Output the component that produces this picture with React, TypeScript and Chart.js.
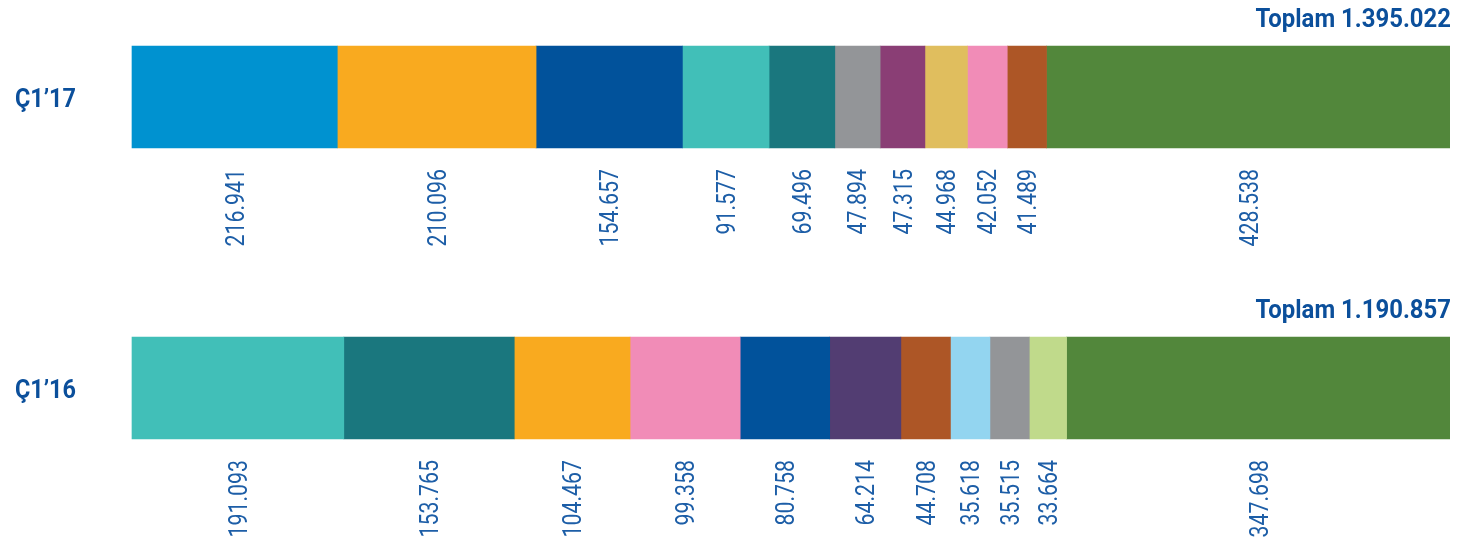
import React, { useEffect, useRef } from "react";
import { Chart, registerables } from "chart.js";

Chart.register(...registerables);

const categories = ["Ç1’17", "Ç1’16"];
const totalLabels = ["Toplam 1.395.022", "Toplam 1.190.857"];

const q117Values = [216941, 210096, 154657, 91577, 69496, 47894, 47315, 44968, 42052, 41489, 428538];
const q117Labels = ["216.941", "210.096", "154.657", "91.577", "69.496", "47.894", "47.315", "44.968", "42.052", "41.489", "428.538"];
const q117Colors = ["#0092d0", "#f9aa1f", "#01529b", "#41bfb8", "#1a777e", "#939598", "#8a3e75", "#e0be5e", "#f18cb7", "#ad5626", "#52873b"];

const q116Values = [191093, 153765, 104467, 99358, 80758, 64214, 44708, 35618, 35515, 33664, 347698];
const q116Labels = ["191.093", "153.765", "104.467", "99.358", "80.758", "64.214", "44.708", "35.618", "35.515", "33.664", "347.698"];
const q116Colors = ["#41bfb8", "#1a777e", "#f9aa1f", "#f18cb7", "#01529b", "#523d72", "#ad5626", "#93d5f0", "#939598", "#c0da8b", "#52873b"];

const BOLD_COLOR = "#0b4f9b";
const VALUE_COLOR = "#1d5ea7";
const FONT = "Roboto, 'Liberation Sans', sans-serif";

export default function App() {
  const ref = useRef<HTMLCanvasElement | null>(null);

  useEffect(() => {
    if (!ref.current) return;
    const sum17 = q117Values.reduce((a, b) => a + b, 0);
    const sum16 = q116Values.reduce((a, b) => a + b, 0);
    const valueLabels = [q117Labels, q116Labels];

    const datasets = q117Values.map((v, i) => ({
      label: "s" + i,
      data: [(v / sum17) * 100, (q116Values[i] / sum16) * 100],
      backgroundColor: [q117Colors[i], q116Colors[i]],
      borderWidth: 0,
      barThickness: 102,
      clip: false as any,
    }));

    const labelPlugin = {
      id: "labels",
      afterDatasetsDraw(chart: any) {
        const ctx = chart.ctx as CanvasRenderingContext2D;
        const yScale = chart.scales.y;
        const area = chart.chartArea;
        ctx.save();
        categories.forEach((c, ci) => {
          const yc = yScale.getPixelForValue(ci);
          ctx.save();
          ctx.fillStyle = BOLD_COLOR;
          ctx.font = `bold 26px ${FONT}`;
          ctx.textBaseline = "alphabetic";
          ctx.textAlign = "left";
          ctx.translate(7, yc + 10);
          ctx.scale(0.9, 1);
          ctx.fillText(c, 0, 0);
          ctx.restore();

          ctx.save();
          ctx.fillStyle = BOLD_COLOR;
          ctx.font = `bold 26px ${FONT}`;
          ctx.textAlign = "right";
          ctx.textBaseline = "alphabetic";
          ctx.translate(area.right - 1, yc - 70);
          ctx.scale(0.92, 1);
          ctx.fillText(totalLabels[ci], 0, 0);
          ctx.restore();
        });
        chart.data.datasets.forEach((ds: any, di: number) => {
          const meta = chart.getDatasetMeta(di);
          meta.data.forEach((el: any, ci: number) => {
            const cx = (el.x + el.base) / 2;
            const bottom = el.y + el.height / 2;
            ctx.save();
            ctx.fillStyle = VALUE_COLOR;
            ctx.font = `26px ${FONT}`;
            ctx.textAlign = "right";
            ctx.textBaseline = "alphabetic";
            ctx.translate(cx + 9, bottom + 21);
            ctx.rotate(-Math.PI / 2);
            ctx.scale(0.82, 1);
            ctx.fillText(valueLabels[ci][di], 0, 0);
            ctx.restore();
          });
        });
        ctx.restore();
      },
    };

    const chart = new Chart(ref.current, {
      type: "bar",
      data: { labels: categories, datasets },
      options: {
        indexAxis: "y",
        animation: false,
        responsive: true,
        maintainAspectRatio: false,
        layout: { padding: { top: 89, bottom: 155, left: 124, right: 0 } },
        plugins: { legend: { display: false }, tooltip: { enabled: false } },
        scales: {
          x: { stacked: true, min: 0, max: 100, display: false },
          y: { stacked: true, display: false, offset: false },
        },
      },
      plugins: [labelPlugin],
    });
    return () => chart.destroy();
  }, []);

  return (
    <div style={{ width: 1444, height: 535, position: "relative" }}>
      <canvas ref={ref} />
    </div>
  );
}
